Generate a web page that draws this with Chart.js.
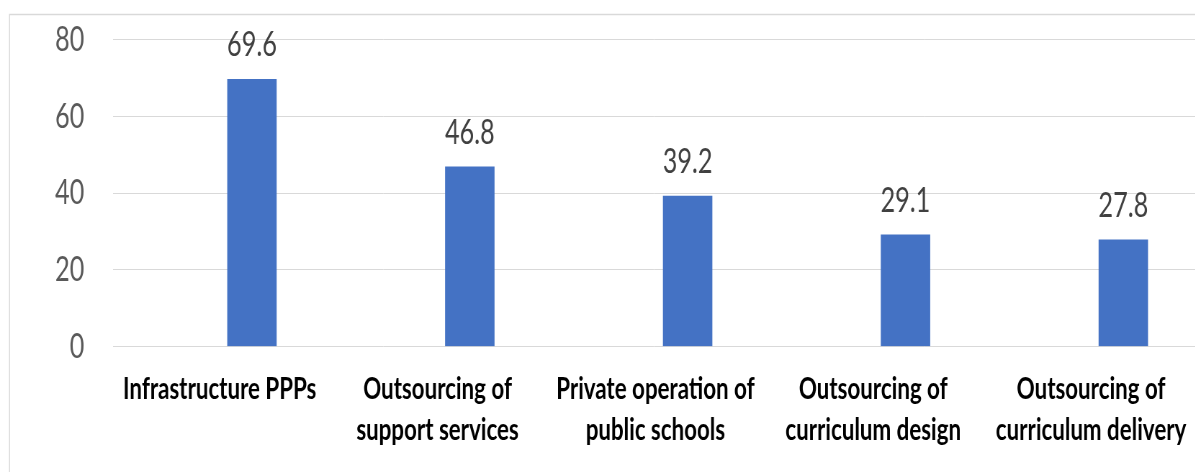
<!DOCTYPE html>
<html>
<head>
<meta charset="utf-8">
<script src="https://cdn.jsdelivr.net/npm/chart.js@4/dist/chart.umd.min.js"></script>
<style>
  html, body { margin: 0; padding: 0; background: #ffffff; overflow: hidden; }
  #wrap { width: 1660px; height: 472px; transform: scaleX(0.72); transform-origin: 0 0; }
  canvas { display: block; }
</style>
</head>
<body>
<div id="wrap"><canvas id="c" width="1660" height="472"></canvas></div>
<script>
// ---- data ----
const categories = [
  ["Infrastructure PPPs"],
  ["Outsourcing of", "support services"],
  ["Private operation of", "public schools"],
  ["Outsourcing of", "curriculum design"],
  ["Outsourcing of", "curriculum delivery"]
];
const values = [69.6, 46.8, 39.2, 29.1, 27.8];
const yTicks = [0, 20, 40, 60, 80];

// ---- chart ----
const S = 0.72; // horizontal compression of the wrapper
const X_MIN = -0.6376, X_MAX = 4.33, LABEL_SHIFT = 0.148;
const frame = {
  id: 'frame',
  beforeDraw(chart) {
    const ctx = chart.ctx;
    ctx.save();
    ctx.strokeStyle = '#d9d9d9';
    ctx.lineWidth = 1.5;
    ctx.beginPath();
    ctx.moveTo(9.5 / S, 600);
    ctx.lineTo(9.5 / S, 14.5);
    ctx.lineTo(chart.width + 10, 14.5);
    ctx.stroke();
    ctx.restore();
  }
};
const valueLabels = {
  id: 'valueLabels',
  afterDatasetsDraw(chart) {
    const ctx = chart.ctx;
    const meta = chart.getDatasetMeta(0);
    ctx.save();
    ctx.font = '35px Lato, "Open Sans", sans-serif';
    ctx.fillStyle = '#404040';
    ctx.textAlign = 'center';
    ctx.textBaseline = 'alphabetic';
    meta.data.forEach((el, i) => {
      ctx.fillText(values[i].toFixed(1), el.x, el.y - 23);
    });
    ctx.restore();
  }
};

new Chart(document.getElementById('c'), {
  type: 'bar',
  data: {
    datasets: [{
      data: values.map((v, i) => ({ x: i, y: v })),
      backgroundColor: '#4472C4',
      borderWidth: 0,
      barThickness: 68
    }]
  },
  options: {
    responsive: false,
    animation: false,
    devicePixelRatio: 1,
    layout: { padding: { top: 39.5, left: 0, right: 0, bottom: 0 } },
    plugins: { legend: { display: false }, tooltip: { enabled: false } },
    scales: {
      x: {
        type: 'linear',
        display: false,
        min: X_MIN,
        max: X_MAX,
        offset: false
      },
      xl: {
        type: 'linear',
        position: 'bottom',
        min: X_MIN + LABEL_SHIFT,
        max: X_MAX + LABEL_SHIFT,
        offset: false,
        grid: { display: false },
        border: { display: false },
        afterFit(s) { s.height = 125.5; s.paddingLeft = 0; s.paddingRight = 0; },
        ticks: {
          stepSize: 1,
          includeBounds: false,
          autoSkip: false,
          maxRotation: 0,
          minRotation: 0,
          padding: 14,
          color: '#000000',
          font: { family: 'Lato, "Open Sans", sans-serif', size: 31, weight: 'bold', lineHeight: 1.33 },
          callback: (v) => (Number.isInteger(v) && v >= 0 && v < categories.length) ? categories[v] : ''
        }
      },
      y: {
        min: yTicks[0],
        max: yTicks[yTicks.length - 1],
        afterFit(s) { s.width = 157; s.paddingTop = 0; s.paddingBottom = 0; },
        afterBuildTicks(s) { s.ticks = yTicks.map(v => ({ value: v })); },
        grid: { color: '#d9d9d9', lineWidth: 1, drawTicks: false },
        border: { display: false },
        ticks: {
          padding: 40,
          color: '#595959',
          font: { family: 'Lato, "Open Sans", sans-serif', size: 35 }
        }
      }
    }
  },
  plugins: [frame, valueLabels]
});
</script>
</body>
</html>
